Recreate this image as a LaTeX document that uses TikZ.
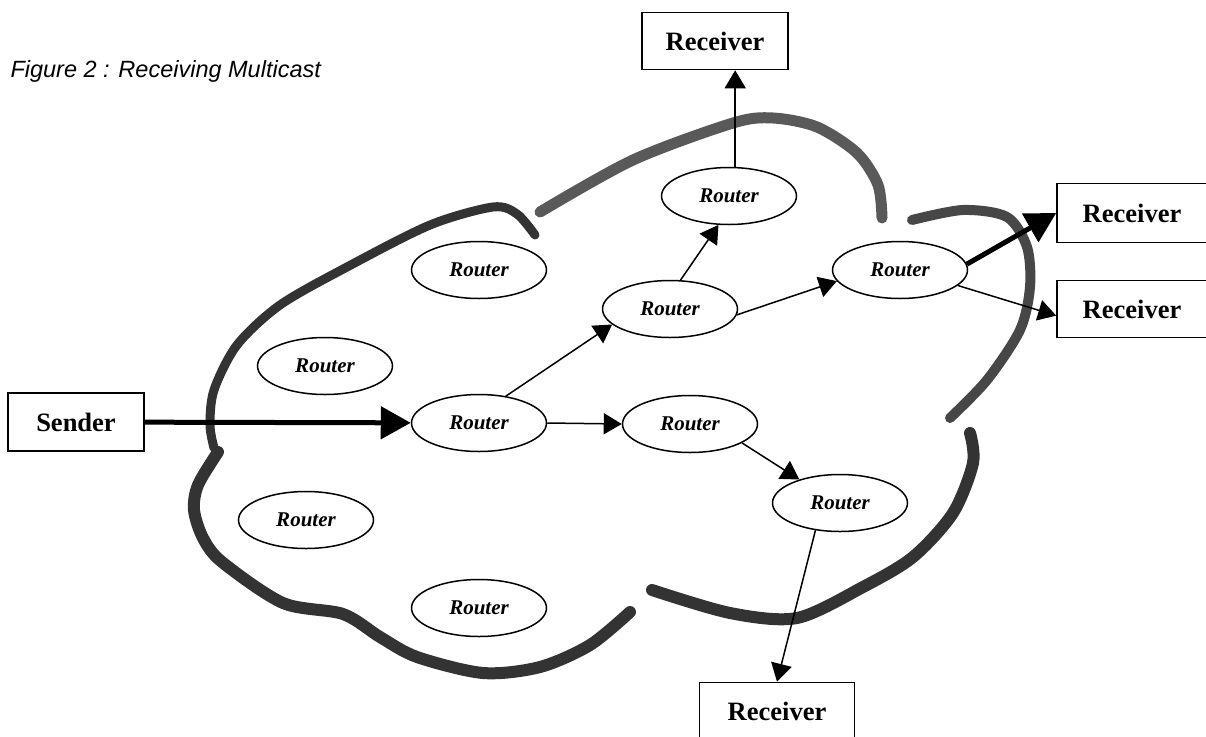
\documentclass[tikz,border=0pt]{standalone}
\usepackage{fontspec}
\setmainfont{Liberation Serif}
\newfontfamily\captionfont{Liberation Sans}
\usetikzlibrary{arrows.meta,shapes.geometric}

\begin{document}
\begin{tikzpicture}[x=1pt,y=-1pt,
  router/.style={ellipse,draw,line width=1.5pt,fill=white,minimum width=135pt,minimum height=57pt,inner sep=0pt,font=\fontsize{21}{25}\selectfont\bfseries\itshape},
  host/.style={rectangle,draw,line width=1.6pt,fill=white,minimum width=146pt,minimum height=57pt,inner sep=0pt,font=\fontsize{26.5}{31}\selectfont\bfseries},
  cloud/.style={line width=11pt,black!80,line cap=round,line join=round},
  link/.style={line width=1.5pt,-{Triangle[length=18pt,width=21pt]}},
  trunk/.style={line width=5pt,-{Triangle[length=30pt,width=32pt]}}]
\useasboundingbox (0,0) rectangle (1206,736);

\draw[cloud,line width=9pt] plot[smooth] coordinates {(535,235) (517,214) (493,207) (430,225) (347,267) (280,305) (237,345) (214,390) (210,425) (214,448)};
\draw[cloud,line width=12pt] plot[smooth] coordinates {(218,452) (198,485) (194,510) (203,538) (222,562) (283,603) (343,614) (380,637) (417,657) (483,673) (540,667) (590,645) (630,612)};
\draw[cloud,black!65,line width=11pt] plot[smooth] coordinates {(540,212) (633,160) (733,123) (773,118) (817,127) (857,153) (878,185) (882,218)};
\draw[cloud,black!72,line width=10pt] plot[smooth] coordinates {(912,220) (963,210) (1007,217) (1027,247) (1030,287) (1020,330) (987,380) (950,418)};
\draw[cloud,line width=12pt] plot[smooth] coordinates {(970,433) (973,463) (953,513) (913,557) (863,587) (797,618) (730,613) (652,590)};

\node (caption) [anchor=base west,font=\captionfont\fontsize{23.5}{28}\selectfont\itshape] at (7,77) {Figure 2 : Receiving Multicast};

\node (r1) [router] at (479,270) {Router};
\node (r2) [router] at (325,366) {Router};
\node (r3) [router] at (306,520) {Router};
\node (r4) [router] at (479,608) {Router};
\node (rc) [router] at (479,423) {Router};
\node (rm) [router] at (670,309) {Router};
\node (rt) [router] at (729,196) {Router};
\node (rr) [router] at (900,270) {Router};
\node (rs) [router] at (690,424) {Router};
\node (rl) [router] at (840,503) {Router};

\node (sender) [host,minimum width=136pt,minimum height=58pt] at (76,422) {Sender};
\node (rxtop) [host] at (715,41) {Receiver};
\node (rxa) [host,minimum width=150pt,minimum height=59pt] at (1132,213) {Receiver};
\node (rxb) [host,minimum width=150pt] at (1132,309) {Receiver};
\node (rxbot) [host,minimum width=155pt] at (777,711) {Receiver};

\draw[trunk] (sender) -- (rc);
\draw[link] (rc.45) -- (rm.195);
\draw[link] (rc.east) -- (rs.west);
\draw[link] (rm.70) -- (rt.250);
\draw[link] (rm.355) -- (rr.190);
\draw[link] (rt.78) -- (rt.78 |- rxtop.south);
\draw[trunk] (rr.5) -- (rxa.west);
\draw[link] (rr.345) -- (rxb.185);
\draw[link] (rs.340) -- (rl.150);
\draw[link] (rl.228) -- (rxbot.north);
\end{tikzpicture}
\end{document}
